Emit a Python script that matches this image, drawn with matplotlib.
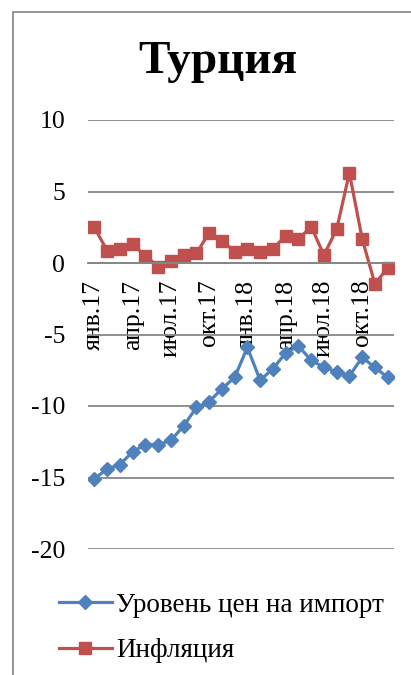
import numpy as np
import matplotlib
matplotlib.use('Agg')
import matplotlib.pyplot as plt
from matplotlib.patches import Rectangle

plt.rcParams['font.family'] = ['Liberation Serif', 'DejaVu Serif']
plt.rcParams['axes.unicode_minus'] = False

months = ['янв.17', 'фев.17', 'мар.17', 'апр.17', 'май.17', 'июн.17',
          'июл.17', 'авг.17', 'сен.17', 'окт.17', 'ноя.17', 'дек.17',
          'янв.18', 'фев.18', 'мар.18', 'апр.18', 'май.18', 'июн.18',
          'июл.18', 'авг.18', 'сен.18', 'окт.18', 'ноя.18', 'дек.18']

import_prices = [-15.1, -14.4, -14.1, -13.2, -12.7, -12.7, -12.4, -11.4,
                 -10.1, -9.7, -8.8, -8.0, -5.9, -8.2, -7.4, -6.3,
                 -5.8, -6.8, -7.3, -7.6, -7.9, -6.6, -7.3, -8.0]
inflation = [2.5, 0.86, 1.0, 1.3, 0.5, -0.25, 0.16, 0.56,
             0.68, 2.1, 1.55, 0.8, 1.0, 0.8, 1.0, 1.9,
             1.65, 2.55, 0.56, 2.35, 6.3, 1.7, -1.45, -0.35]

blue = '#4F81BD'
red = '#C0504D'
grid_col = '#868686'
fs = 18.5

W, H = 411, 675
fig = plt.figure(figsize=(W / 100, H / 100), dpi=100)

# outer chart frame
fig.patches.append(Rectangle((13 / W, -0.1), 1.2, 1.1 - 12 / H,
                             transform=fig.transFigure, fill=False,
                             edgecolor='#8c8c8c', linewidth=1.3))

ax = fig.add_axes([88 / W, 1 - 549 / H, (394 - 88) / W, (549 - 120) / H])
x = np.arange(len(months))

ax.plot(x, import_prices, color=blue, lw=2.3, marker='D', ms=7.5,
        label='Уровень цен на импорт')
ax.plot(x, inflation, color=red, lw=2.3, marker='s', ms=8.5,
        label='Инфляция')

ax.set_xlim(-0.5, len(months) - 0.5)
ax.set_ylim(-20, 10)
ax.set_yticks(np.arange(-20, 11, 5))
ax.yaxis.grid(True, color=grid_col, lw=1.3)
ax.set_axisbelow(True)

for s in ['left', 'right', 'top']:
    ax.spines[s].set_visible(False)
ax.spines['bottom'].set_position(('data', 0))
ax.spines['bottom'].set_color(grid_col)
ax.spines['bottom'].set_linewidth(1.3)

ax.set_xticks(x[::3])
ax.set_xticklabels(months[::3], rotation=90)
ax.tick_params(axis='x', length=0, pad=12, labelsize=fs)
ax.tick_params(axis='y', length=0, pad=16.5, labelsize=fs)

fig.text(218 / W, 1 - 62 / H, 'Турция', fontsize=34, fontweight='bold',
         ha='center', va='center')

fig.legend(loc='center left', bbox_to_anchor=(59 / W, 1 - 628 / H),
           frameon=False, fontsize=19.5, handlelength=1.95,
           handletextpad=0.17, labelspacing=0.75, numpoints=1,
           borderaxespad=0, borderpad=0)

fig.savefig('out.png', dpi=100)
